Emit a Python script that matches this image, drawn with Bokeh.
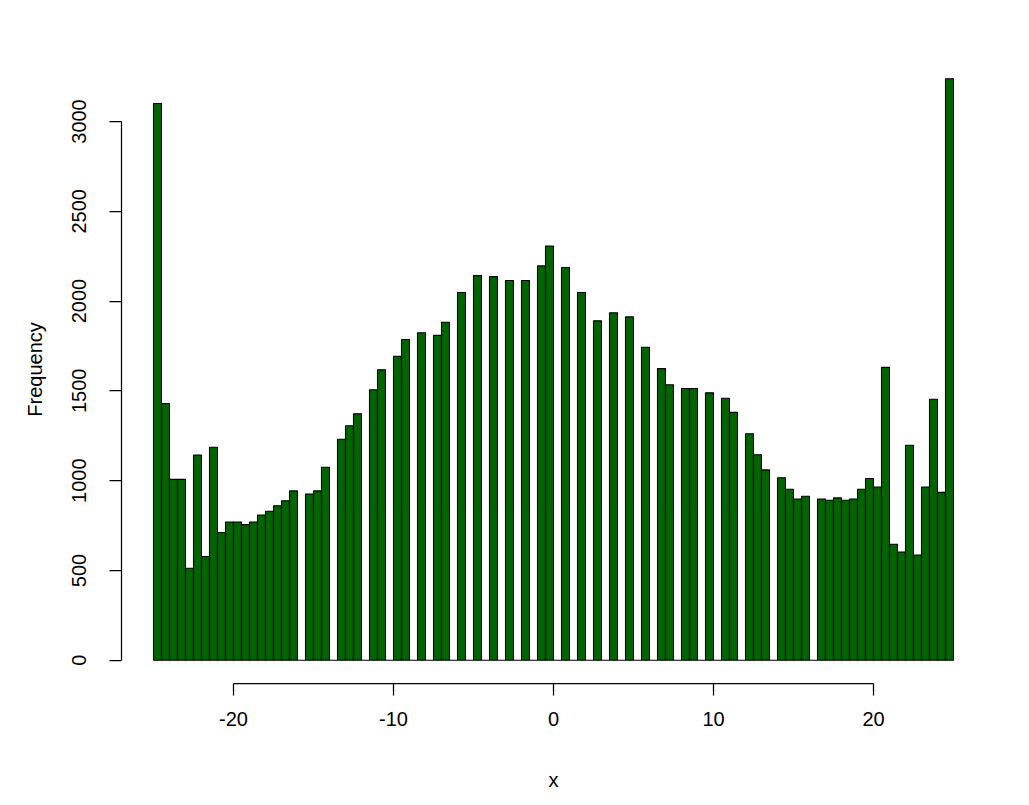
import numpy as np
from bokeh.plotting import figure
from bokeh.models import Range1d, FixedTicker, LinearAxis
from bokeh.embed import file_html
from bokeh.resources import INLINE

# Histogram of x: bins of width 0.5 from -25 to 25
bin_start = -25.0
bin_width = 0.5
counts = [
    3100, 1430, 1007, 1007, 512, 1142, 578, 1186, 711, 770,
    770, 755, 770, 809, 830, 860, 888, 943, 0, 926,
    943, 1075, 0, 1231, 1306, 1372, 0, 1506, 1617, 0,
    1692, 1786, 0, 1824, 0, 1809, 1882, 0, 2048, 0,
    2142, 0, 2136, 0, 2115, 0, 2115, 0, 2196, 2307,
    0, 2187, 0, 2048, 0, 1890, 0, 1935, 0, 1912,
    0, 1743, 0, 1624, 1534, 0, 1513, 1513, 0, 1489,
    0, 1459, 1380, 0, 1261, 1144, 1060, 0, 1016, 952,
    897, 913, 0, 897, 891, 904, 891, 897, 952, 1012,
    965, 1631, 646, 602, 1197, 586, 965, 1453, 935, 3238,
]
x_ticks = [-20, -10, 0, 10, 20]
y_ticks = [0, 500, 1000, 1500, 2000, 2500, 3000]
x_label = "x"
y_label = "Frequency"

n = len(counts)
lefts = bin_start + bin_width * np.arange(n)
rights = lefts + bin_width

FONT = "Liberation Sans"
FS = "20px"

p = figure(width=1010, height=803, output_backend="svg", toolbar_location=None,
           x_range=Range1d(-27, 27), y_range=Range1d(-129.5, 3367.5),
           min_border_left=121, min_border_right=25, min_border_top=55,
           min_border_bottom=120, x_axis_location=None, y_axis_location=None)
p.xgrid.visible = False
p.ygrid.visible = False
p.outline_line_color = None
p.background_fill_color = "white"
p.border_fill_color = "white"

p.quad(left=lefts, right=rights, bottom=0, top=counts,
       fill_color="#006400", line_color="black", line_width=1.1)

xa = LinearAxis(ticker=FixedTicker(ticks=x_ticks), axis_label=x_label)
ya = LinearAxis(ticker=FixedTicker(ticks=y_ticks), axis_label=y_label)
for ax in (xa, ya):
    ax.axis_line_color = "black"
    ax.axis_line_width = 1.25
    ax.major_tick_line_color = "black"
    ax.major_tick_line_width = 1.25
    ax.major_tick_out = 12
    ax.major_tick_in = 0
    ax.minor_tick_out = 0
    ax.minor_tick_in = 0
    ax.major_label_text_font = FONT
    ax.major_label_text_font_size = FS
    ax.major_label_text_color = "black"
    ax.axis_label_text_font = FONT
    ax.axis_label_text_font_size = FS
    ax.axis_label_text_font_style = "normal"
    ax.axis_label_text_color = "black"
xa.bounds = (-20, 20)
ya.bounds = (0, 3000)
xa.major_label_overrides = {t: str(t) for t in x_ticks}
xa.major_label_standoff = 16
xa.axis_label_standoff = 40
ya.major_label_orientation = "vertical"
ya.major_label_standoff = 23
ya.axis_label_standoff = 24
p.add_layout(xa, "below")
p.add_layout(ya, "left")

open("out.html", "w").write(file_html(p, INLINE))
